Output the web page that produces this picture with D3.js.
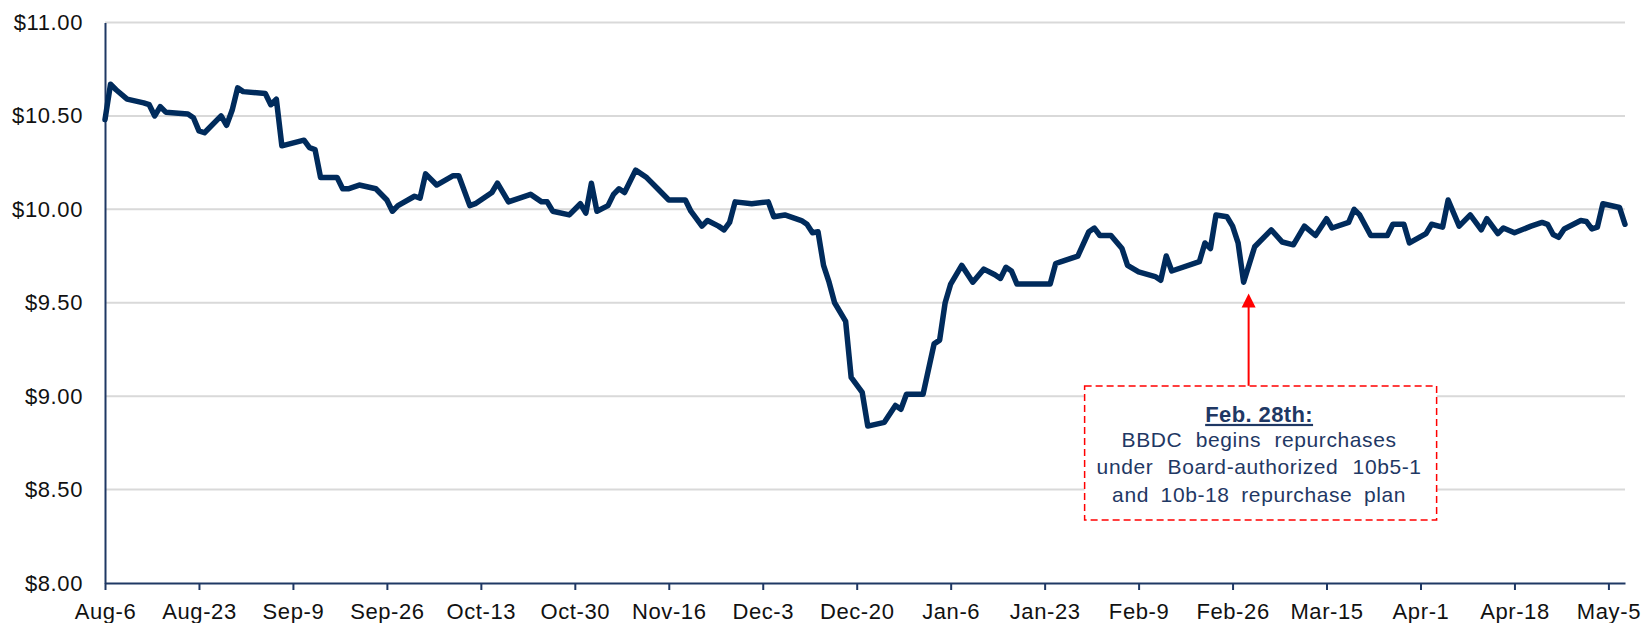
<!DOCTYPE html>
<html>
<head>
<meta charset="utf-8">
<script src="https://cdn.jsdelivr.net/npm/d3@7"></script>
<style>
  body { margin: 0; background: #fff; }
  .axis text { font-family: "Liberation Sans", Arial, sans-serif; font-size: 22px; fill: #111; letter-spacing: 0.6px; }
  .note text { font-family: "Liberation Sans", Arial, sans-serif; fill: #1f3864; }
</style>
</head>
<body>
<div class="container"></div>
<script>
// daily closes (vertices of the line)
const dates = [
  "2018-08-06","2018-08-07","2018-08-08","2018-08-10","2018-08-13","2018-08-14","2018-08-15","2018-08-16","2018-08-17","2018-08-21",
  "2018-08-22","2018-08-23","2018-08-24","2018-08-27","2018-08-28","2018-08-29","2018-08-30","2018-08-31","2018-09-04","2018-09-05",
  "2018-09-06","2018-09-07","2018-09-11","2018-09-12","2018-09-13","2018-09-14","2018-09-17","2018-09-18","2018-09-19","2018-09-21",
  "2018-09-24","2018-09-26","2018-09-27","2018-09-28","2018-10-01","2018-10-02","2018-10-03","2018-10-05","2018-10-08","2018-10-09",
  "2018-10-11","2018-10-12","2018-10-15","2018-10-16","2018-10-18","2018-10-20","2018-10-22","2018-10-24","2018-10-25","2018-10-26",
  "2018-10-29","2018-10-31","2018-11-01","2018-11-02","2018-11-03","2018-11-05","2018-11-06","2018-11-07","2018-11-08","2018-11-10",
  "2018-11-12","2018-11-14","2018-11-16","2018-11-19","2018-11-20","2018-11-22","2018-11-23","2018-11-25","2018-11-26","2018-11-27",
  "2018-11-28","2018-12-01","2018-12-04","2018-12-05","2018-12-07","2018-12-10","2018-12-11","2018-12-12","2018-12-13","2018-12-14",
  "2018-12-15","2018-12-16","2018-12-18","2018-12-19","2018-12-21","2018-12-22","2018-12-25","2018-12-27","2018-12-28","2018-12-29",
  "2019-01-01","2019-01-03","2019-01-04","2019-01-05","2019-01-06","2019-01-08","2019-01-10","2019-01-12","2019-01-14","2019-01-15",
  "2019-01-16","2019-01-17","2019-01-18","2019-01-24","2019-01-25","2019-01-26","2019-01-29","2019-01-31","2019-02-01","2019-02-02",
  "2019-02-04","2019-02-06","2019-02-07","2019-02-09","2019-02-12","2019-02-13","2019-02-14","2019-02-15","2019-02-20","2019-02-21",
  "2019-02-22","2019-02-23","2019-02-25","2019-02-26","2019-02-27","2019-02-28","2019-03-02","2019-03-05","2019-03-07","2019-03-09",
  "2019-03-11","2019-03-13","2019-03-15","2019-03-16","2019-03-19","2019-03-20","2019-03-21","2019-03-23","2019-03-26","2019-03-27",
  "2019-03-29","2019-03-30","2019-04-02","2019-04-03","2019-04-05","2019-04-06","2019-04-08","2019-04-10","2019-04-12","2019-04-13",
  "2019-04-15","2019-04-16","2019-04-18","2019-04-21","2019-04-23","2019-04-24","2019-04-25","2019-04-26","2019-04-27","2019-04-30",
  "2019-05-01","2019-05-02","2019-05-03","2019-05-04","2019-05-07","2019-05-08"
];
const prices = [
  10.48,10.67,10.64,10.59,10.57,10.56,10.50,10.55,10.52,10.51,
  10.49,10.42,10.41,10.50,10.45,10.53,10.65,10.63,10.62,10.56,
  10.59,10.34,10.37,10.33,10.32,10.17,10.17,10.11,10.11,10.13,
  10.11,10.05,9.99,10.02,10.07,10.06,10.19,10.13,10.18,10.18,
  10.02,10.03,10.09,10.14,10.04,10.06,10.08,10.04,10.04,9.99,
  9.97,10.03,9.98,10.14,9.99,10.02,10.08,10.11,10.09,10.21,
  10.17,10.11,10.05,10.05,9.99,9.91,9.94,9.91,9.89,9.93,
  10.04,10.03,10.04,9.96,9.97,9.94,9.92,9.875,9.88,9.70,
  9.61,9.50,9.40,9.10,9.02,8.84,8.86,8.95,8.93,9.01,
  9.01,9.28,9.30,9.50,9.60,9.70,9.61,9.68,9.65,9.63,
  9.69,9.67,9.60,9.60,9.71,9.72,9.75,9.88,9.90,9.86,
  9.86,9.79,9.70,9.665,9.64,9.62,9.75,9.67,9.72,9.82,
  9.79,9.97,9.96,9.91,9.82,9.61,9.80,9.89,9.825,9.81,
  9.91,9.86,9.95,9.90,9.93,10.00,9.97,9.86,9.86,9.92,
  9.92,9.82,9.87,9.92,9.905,10.05,9.91,9.97,9.89,9.95,
  9.87,9.90,9.875,9.91,9.93,9.92,9.865,9.85,9.895,9.94,
  9.935,9.895,9.905,10.03,10.01,9.92
];

const xTicks = ["2018-08-06","2018-08-23","2018-09-09","2018-09-26","2018-10-13","2018-10-30","2018-11-16","2018-12-03",
                "2018-12-20","2019-01-06","2019-01-23","2019-02-09","2019-02-26","2019-03-15","2019-04-01","2019-04-18","2019-05-05"];
const yTicks = [8, 8.5, 9, 9.5, 10, 10.5, 11];
const xDomain = ["2018-08-06", "2019-05-08"];

const noteDate = "2019-02-28";
const noteTitle = "Feb. 28th:";
const noteLines = ["BBDC begins repurchases", "under Board-authorized 10b5-1", "and 10b-18 repurchase plan"];

const W = 1646, H = 623;
const margin = {top: 22.5, right: 21, bottom: 40, left: 105};
const width = W - margin.left - margin.right;
const height = H - margin.top - margin.bottom;

const parse = d3.utcParse("%Y-%m-%d");
const data = dates.map((d, i) => ({date: parse(d), price: prices[i]}));

const svg = d3.select(".container")
  .append("svg")
    .attr("width", W)
    .attr("height", H)
  .append("g")
    .attr("transform", "translate(" + margin.left + "," + margin.top + ")");

const x = d3.scaleUtc().domain(xDomain.map(parse)).range([0, width]);
const y = d3.scaleLinear().domain([8, 11]).range([height, 0]);

// gridlines
svg.append("g")
  .selectAll("line")
  .data(yTicks.filter(d => d > 8))
  .join("line")
    .attr("x1", 0)
    .attr("x2", width)
    .attr("y1", d => y(d))
    .attr("y2", d => y(d))
    .attr("stroke", "#d9d9d9")
    .attr("stroke-width", 2);

// y axis
const yAxis = svg.append("g")
  .attr("class", "axis")
  .call(d3.axisLeft(y)
    .tickValues(yTicks)
    .tickFormat(d => "$" + d3.format(".2f")(d))
    .tickSize(0)
    .tickSizeOuter(0)
    .tickPadding(22));
yAxis.select(".domain").attr("stroke", "#1f3864").attr("stroke-width", 2);

// x axis
const xAxis = svg.append("g")
  .attr("class", "axis")
  .attr("transform", "translate(0," + height + ")")
  .call(d3.axisBottom(x)
    .tickValues(xTicks.map(parse))
    .tickFormat(d3.utcFormat("%b-%-d"))
    .tickSize(7)
    .tickSizeOuter(0)
    .tickPadding(13));
xAxis.select(".domain").attr("stroke", "#1f3864").attr("stroke-width", 2);
xAxis.selectAll(".tick line").attr("stroke", "#1f3864").attr("stroke-width", 2);

// price line
const line = d3.line()
  .x(d => x(d.date))
  .y(d => y(d.price));

svg.append("path")
  .datum(data)
  .attr("fill", "none")
  .attr("stroke", "#002b5c")
  .attr("stroke-width", 5.5)
  .attr("stroke-linejoin", "round")
  .attr("stroke-linecap", "round")
  .attr("d", line);

// annotation
const note = svg.append("g").attr("class", "note");
const ax = x(parse(noteDate)) + 5;
const tipY = y(9.55);
const boxTop = y(9.055);
const boxLeft = ax - 164, boxW = 352, boxH = 134;
const cx = ax + 10.5;

note.append("line")
  .attr("x1", ax).attr("x2", ax)
  .attr("y1", boxTop).attr("y2", tipY + 10)
  .attr("stroke", "#ff0000")
  .attr("stroke-width", 2);

note.append("path")
  .attr("d", "M" + ax + "," + tipY + "L" + (ax - 7) + "," + (tipY + 14) + "L" + (ax + 7) + "," + (tipY + 14) + "Z")
  .attr("fill", "#ff0000");

note.append("rect")
  .attr("x", boxLeft)
  .attr("y", boxTop)
  .attr("width", boxW)
  .attr("height", boxH)
  .attr("fill", "#fff")
  .attr("stroke", "#ff0000")
  .attr("stroke-width", 1.5)
  .attr("stroke-dasharray", "7,4");

note.append("text")
  .attr("x", cx)
  .attr("y", boxTop + 36)
  .attr("text-anchor", "middle")
  .style("font-size", "22px")
  .style("font-weight", "bold")
  .style("text-decoration", "underline")
  .style("letter-spacing", "0.4px")
  .text(noteTitle);

const targets = [275, 325, 294];
noteLines.forEach((t, i) => {
  const txt = note.append("text")
    .attr("x", cx)
    .attr("y", boxTop + 61 + i * 27.5)
    .attr("text-anchor", "middle")
    .style("font-size", "21px")
    .style("letter-spacing", "0.6px")
    .text(t);
  const gaps = t.split(" ").length - 1;
  const extra = (targets[i] - txt.node().getComputedTextLength()) / gaps;
  txt.style("word-spacing", Math.max(0, extra) + "px");
});
</script>
</body>
</html>
